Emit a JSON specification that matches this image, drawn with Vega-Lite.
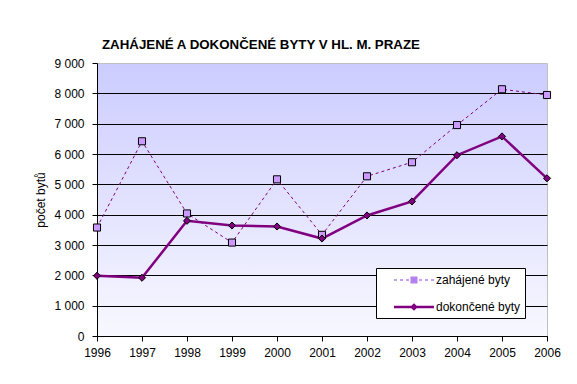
{
  "$schema": "https://vega.github.io/schema/vega-lite/v6.json",
  "width": 450,
  "height": 273,
  "autosize": {"type": "none"},
  "padding": {"left": 97, "top": 63, "right": 30, "bottom": 48},
  "background": "white",
  "title": {
    "text": "ZAHÁJENÉ A DOKONČENÉ BYTY V HL. M. PRAZE",
    "anchor": "start",
    "frame": "group",
    "dx": 5,
    "offset": -5,
    "baseline": "alphabetic",
    "font": "Liberation Sans",
    "fontSize": 13.3,
    "fontWeight": "bold",
    "color": "black"
  },
  "config": {
    "font": "Liberation Sans",
    "view": {
      "stroke": "#C0C0C0",
      "fill": {"gradient": "linear", "x1": 0, "y1": 0, "x2": 0, "y2": 1,
        "stops": [{"offset": 0, "color": "#CCCCFF"}, {"offset": 1, "color": "#F8F8FF"}]}
    }
  },
  "data": {
    "values": [
      {"year": 1996, "series": "zahájené byty", "value": 3576},
      {"year": 1997, "series": "zahájené byty", "value": 6420},
      {"year": 1998, "series": "zahájené byty", "value": 4040},
      {"year": 1999, "series": "zahájené byty", "value": 3080},
      {"year": 2000, "series": "zahájené byty", "value": 5165},
      {"year": 2001, "series": "zahájené byty", "value": 3335},
      {"year": 2002, "series": "zahájené byty", "value": 5265},
      {"year": 2003, "series": "zahájené byty", "value": 5728},
      {"year": 2004, "series": "zahájené byty", "value": 6954},
      {"year": 2005, "series": "zahájené byty", "value": 8135},
      {"year": 2006, "series": "zahájené byty", "value": 7945},
      {"year": 1996, "series": "dokončené byty", "value": 1986},
      {"year": 1997, "series": "dokončené byty", "value": 1920},
      {"year": 1998, "series": "dokončené byty", "value": 3798},
      {"year": 1999, "series": "dokončené byty", "value": 3642},
      {"year": 2000, "series": "dokončené byty", "value": 3610},
      {"year": 2001, "series": "dokončené byty", "value": 3212},
      {"year": 2002, "series": "dokončené byty", "value": 3974},
      {"year": 2003, "series": "dokončené byty", "value": 4437},
      {"year": 2004, "series": "dokončené byty", "value": 5960},
      {"year": 2005, "series": "dokončené byty", "value": 6580},
      {"year": 2006, "series": "dokončené byty", "value": 5198}
    ]
  },
  "encoding": {
    "x": {
      "field": "year", "type": "quantitative",
      "scale": {"domain": [1996, 2006], "nice": false, "zero": false},
      "axis": {
        "title": null, "values": [1996,1997,1998,1999,2000,2001,2002,2003,2004,2005,2006],
        "format": "d", "grid": false, "domainColor": "black", "tickColor": "black",
        "tickSize": 5, "labelPadding": 6, "labelFontSize": 12, "labelColor": "black",
        "labelFont": "Liberation Sans", "labelFlush": false, "labelOverlap": false
      }
    },
    "y": {
      "field": "value", "type": "quantitative",
      "scale": {"domain": [0, 9000], "nice": false},
      "axis": {
        "title": "počet bytů", "values": [0,1000,2000,3000,4000,5000,6000,7000,8000,9000],
        "labelExpr": "replace(format(datum.value, ',d'), ',', ' ')",
        "grid": true,
        "gridColor": {"condition": {"test": "datum.value === 9000", "value": null}, "value": "black"},
        "gridWidth": 1,
        "domainColor": "black", "tickColor": "black", "tickSize": 5, "labelPadding": 8,
        "labelFontSize": 12, "labelColor": "black", "labelFont": "Liberation Sans",
        "titleFontSize": 12, "titleFontWeight": "normal", "titleColor": "black",
        "titleFont": "Liberation Sans", "titlePadding": 6
      }
    }
  },
  "layer": [
    {
      "transform": [{"filter": "datum.series === 'zahájené byty'"}],
      "mark": {"type": "line", "color": "#800080", "strokeWidth": 1, "strokeDash": [3, 3]}
    },
    {
      "transform": [{"filter": "datum.series === 'dokončené byty'"}],
      "mark": {"type": "line", "color": "#800080", "strokeWidth": 2.5}
    },
    {
      "transform": [{"filter": "datum.series === 'zahájené byty'"}],
      "mark": {"type": "point", "shape": "square", "filled": true, "size": 50, "fill": "#CC99FF", "stroke": "black", "strokeWidth": 1, "opacity": 1}
    },
    {
      "transform": [{"filter": "datum.series === 'dokončené byty'"}],
      "mark": {"type": "point", "shape": "diamond", "filled": true, "size": 50, "fill": "#800080", "stroke": "black", "strokeWidth": 1, "opacity": 1}
    },
    {
      "transform": [{"filter": "datum.series === 'none'"}],
      "mark": {"type": "point", "filled": false, "color": "#800080", "stroke": "#800080", "strokeWidth": 1.5, "opacity": 1},
      "encoding": {
        "shape": {
          "field": "series", "type": "nominal",
          "scale": {"domain": ["zahájené byty", "dokončené byty"], "range": [
            "M0.857,-0.1H1.286V0.1H0.857ZM1.714,-0.1H2.143V0.1H1.714ZM2.571,-0.1H3V0.1H2.571ZM3.214,-0.5H4.214V0.5H3.214ZM4.429,-0.1H4.857V0.1H4.429ZM5.286,-0.1H5.714V0.1H5.286ZM6.143,-0.1H6.571V0.1H6.143Z",
            "M0.857,-0.18H6.571V0.18H0.857ZM3.164,0L3.714,-0.55L4.264,0L3.714,0.55Z"
          ]},
          "legend": {
            "orient": "none", "legendX": 279, "legendY": 205, "title": null,
            "fillColor": "white", "strokeColor": "black", "padding": 4,
            "symbolSize": 196, "labelOffset": 40, "rowPadding": 12,
            "symbolStrokeColor": "#800080", "symbolStrokeWidth": 1.5, "symbolOpacity": 1,
            "labelFontSize": 12, "labelColor": "black", "labelFont": "Liberation Sans"
          }
        },
        "fill": {
          "field": "series", "type": "nominal",
          "scale": {"domain": ["zahájené byty", "dokončené byty"], "range": ["#B580F0", "#800080"]}
        }
      }
    }
  ]
}
